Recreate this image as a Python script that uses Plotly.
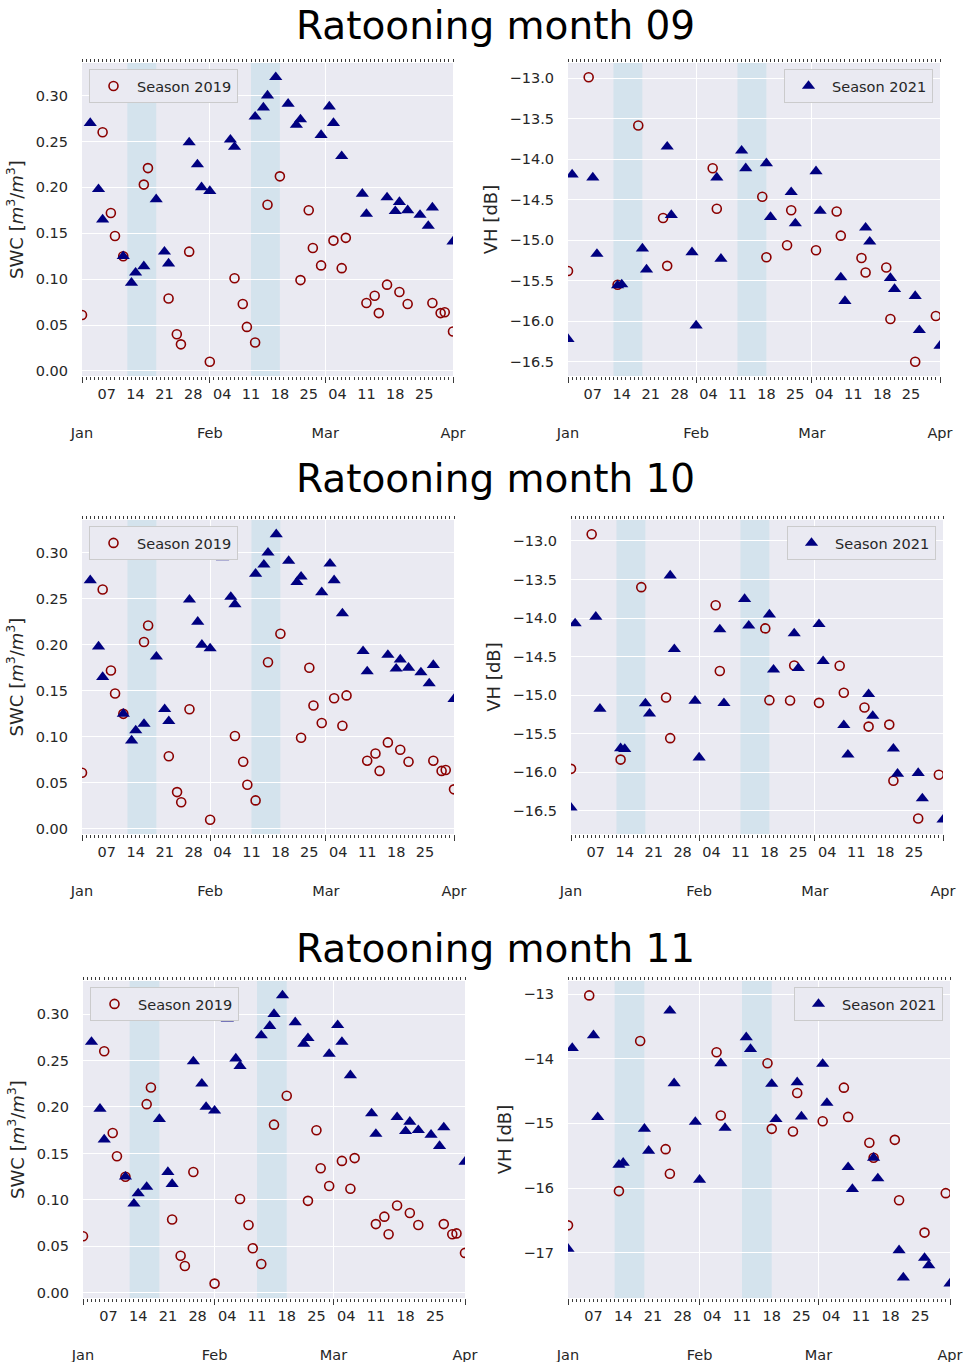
import pandas as pd
import plotly.graph_objects as go

# Common calendar year used to lay both seasons on one Jan-Apr axis
CAL_YEAR = 2019

# ---- Soil water content (same for every ratooning month) ----
swc_2019_dates = ["01-01", "01-06", "01-08", "01-09", "01-11", "01-16", "01-17", "01-22",
                  "01-24", "01-25", "01-27", "02-01", "02-07", "02-09", "02-10", "02-12",
                  "02-15", "02-18", "02-23", "02-25", "02-26", "02-28", "03-03", "03-05",
                  "03-06", "03-11", "03-13", "03-14", "03-16", "03-19", "03-21", "03-27",
                  "03-29", "03-30", "04-01"]
swc_2019 = [0.061, 0.260, 0.172, 0.147, 0.125, 0.203, 0.221, 0.079, 0.040, 0.029, 0.130,
            0.010, 0.101, 0.073, 0.048, 0.031, 0.181, 0.212, 0.099, 0.175, 0.134, 0.115,
            0.142, 0.112, 0.145, 0.074, 0.082, 0.063, 0.094, 0.086, 0.073, 0.074, 0.063,
            0.064, 0.043]

swc_2021_dates = ["01-03", "01-05", "01-06", "01-11", "01-13", "01-14", "01-16", "01-19",
                  "01-21", "01-22", "01-27", "01-29", "01-30", "02-01", "02-04", "02-06",
                  "02-07", "02-12", "02-14", "02-15", "02-17", "02-20", "02-22", "02-23",
                  "02-28", "03-02", "03-03", "03-05", "03-10", "03-11", "03-16", "03-18",
                  "03-19", "03-21", "03-24", "03-26", "03-27", "04-01"]
swc_2021 = [0.270, 0.198, 0.165, 0.125, 0.096, 0.107, 0.114, 0.187, 0.130, 0.117, 0.249,
            0.225, 0.200, 0.196, 0.295, 0.252, 0.244, 0.277, 0.287, 0.300, 0.320, 0.291,
            0.268, 0.274, 0.257, 0.288, 0.270, 0.234, 0.193, 0.171, 0.189, 0.174, 0.184,
            0.175, 0.170, 0.158, 0.178, 0.141]

# ---- Sentinel-1 VH backscatter acquisition dates ----
vh_2019_dates = ["01-01", "01-06", "01-13", "01-18", "01-24", "01-25", "02-05", "02-06",
                 "02-17", "02-18", "02-23", "02-24", "03-02", "03-07", "03-08", "03-13",
                 "03-14", "03-19", "03-20", "03-26", "03-31"]
vh_2021_dates = ["01-01", "01-02", "01-07", "01-08", "01-13", "01-14", "01-19", "01-20",
                 "01-25", "01-26", "01-31", "02-01", "02-06", "02-07", "02-12", "02-13",
                 "02-18", "02-19", "02-24", "02-25", "03-02", "03-03", "03-08", "03-09",
                 "03-14", "03-15", "03-20", "03-21", "03-26", "03-27", "04-01"]

# VH [dB] per ratooning month
vh_2019_m09 = [-15.38, -12.99, -15.55, -13.585, -14.727, -15.317, -14.113, -14.613, -14.465,
               -15.21, -15.063, -14.63, -15.124, -14.646, -14.944, -15.219, -15.399, -15.337,
               -15.972, -16.50, -15.935]
vh_2021_m09 = [-16.22, -14.19, -14.228, -15.17, -15.558, -15.546, -15.104, -15.362, -13.847,
               -14.69, -15.149, -16.054, -14.228, -15.23, -13.896, -14.113, -14.052, -14.715,
               -14.408, -14.793, -14.15, -14.64, -15.46, -15.751, -14.846, -15.018, -15.468,
               -15.603, -15.689, -16.111, -16.303]

vh_2019_m10 = [-15.956, -12.914, -15.836, -13.60, -15.031, -15.558, -13.835, -14.688, -14.135,
               -15.065, -15.07, -14.615, -15.10, -14.62, -14.97, -15.16, -15.408, -15.382,
               -16.11, -16.60, -16.033]
vh_2021_m10 = [-16.46, -14.07, -13.985, -15.177, -15.69, -15.70, -15.108, -15.24, -13.45,
               -14.405, -15.074, -15.81, -14.148, -15.104, -13.754, -14.10, -13.955, -14.67,
               -14.20, -14.65, -14.08, -14.56, -15.39, -15.772, -14.988, -15.27, -15.695,
               -16.02, -16.01, -16.34, -16.616]

vh_2019_m11 = [-16.578, -13.02, -16.048, -13.726, -15.399, -15.78, -13.90, -14.879, -14.07,
               -15.085, -15.126, -14.529, -14.967, -14.447, -14.90, -15.30, -15.533, -15.255,
               -16.19, -16.69, -16.08]
vh_2021_m11 = [-16.94, -13.834, -13.638, -14.905, -15.641, -15.61, -15.085, -15.425, -13.257,
               -14.38, -14.977, -15.873, -14.07, -15.07, -13.669, -13.85, -14.39, -14.936,
               -14.364, -14.894, -14.08, -14.683, -15.677, -16.017, -15.533, -15.852, -16.964,
               -17.386, -17.082, -17.196, -17.479]

ratoon_months = ["09", "10", "11"]
vh_by_month = {
    "09": (vh_2019_m09, vh_2021_m09),
    "10": (vh_2019_m10, vh_2021_m10),
    "11": (vh_2019_m11, vh_2021_m11),
}

# Highlighted periods
event_windows = [("01-12", "01-19"), ("02-11", "02-18")]

# Axis ticks
month_ticks = ["01-01", "02-01", "03-01", "04-01"]
month_labels = ["Jan", "Feb", "Mar", "Apr"]
week_ticks = ["01-07", "01-14", "01-21", "01-28", "02-04", "02-11", "02-18", "02-25",
              "03-04", "03-11", "03-18", "03-25"]
week_labels = ["07", "14", "21", "28", "04", "11", "18", "25", "04", "11", "18", "25"]


def to_date(md):
    return pd.Timestamp(f"{CAL_YEAR}-{md}")


def dates(mds):
    return [to_date(m) for m in mds]


W, H = 968, 1362
FONT = "DejaVu Sans"
TXT = "#262626"
TICKC = "#3a3a3a"
BG = "#EAEAF2"
C2019 = "darkred"
C2021 = "navy"
DAY_MS = 86400000

x_start, x_end = to_date("01-01"), to_date("04-01")

# Panel boxes in pixels: (left, right, top, bottom)
panel_px = [
    [(82, 453, 63, 376), (568, 940, 63, 376)],
    [(82, 454, 520, 834), (571, 943, 520, 834)],
    [(83, 465, 981, 1298), (568, 950, 981, 1298)],
]
title_y_px = [25, 478, 948]


def xdom(p):
    return [p[0] / W, p[1] / W]


def ydom(p):
    return [1 - p[3] / H, 1 - p[2] / H]


def padded(values):
    lo, hi = min(values), max(values)
    pad = 0.05 * (hi - lo)
    return [lo - pad, hi + pad]


fig = go.Figure()
layout = dict(
    width=W, height=H, autosize=False,
    margin=dict(l=0, r=0, t=0, b=0),
    paper_bgcolor="white", plot_bgcolor=BG,
    font=dict(family=FONT, color=TXT, size=14.5),
    shapes=[], annotations=[],
)

panel = 0
for row, month in enumerate(ratoon_months):
    vh19, vh21 = vh_by_month[month]
    series = [
        ("SWC", swc_2019, swc_2021, swc_2019_dates, swc_2021_dates),
        ("VH", vh19, vh21, vh_2019_dates, vh_2021_dates),
    ]
    for col, (kind, s19, s21, d19, d21) in enumerate(series):
        p = panel_px[row][col]
        xi = 2 * panel + 1
        yi = panel + 1
        xid = "x" if xi == 1 else f"x{xi}"
        xkey = "xaxis" if xi == 1 else f"xaxis{xi}"
        wid = f"x{xi + 1}"
        yid = "y" if yi == 1 else f"y{yi}"
        ykey = "yaxis" if yi == 1 else f"yaxis{yi}"
        lid = "legend" if yi == 1 else f"legend{yi}"

        # main bottom axis: month ticks + month gridlines
        layout[xkey] = dict(
            domain=xdom(p), anchor=yid, type="date", range=[x_start, x_end],
            tickmode="array", tickvals=dates(month_ticks),
            ticktext=["<br><br>" + m for m in month_labels],
            ticks="outside", ticklen=6, tickwidth=1, tickcolor=TICKC,
            showgrid=True, gridcolor="white", gridwidth=1.2,
            zeroline=False, showline=False, automargin=False,
            tickfont=dict(size=14.5, color=TXT),
        )
        # weekly day-of-month labels with daily ticks, mirrored to the top edge
        layout[f"xaxis{xi + 1}"] = dict(
            domain=xdom(p), overlaying=xid, anchor=yid, side="bottom", type="date",
            range=[x_start, x_end], tickmode="array", tickvals=dates(week_ticks),
            ticktext=week_labels, ticks="outside", ticklen=3, tickwidth=1, tickcolor=TICKC,
            minor=dict(ticks="outside", ticklen=3, tickwidth=1, tickcolor=TICKC,
                       dtick=DAY_MS, tick0=x_start, showgrid=False),
            mirror="ticks", showgrid=False, zeroline=False,
            showline=False, automargin=False, ticklabelstandoff=2,
            tickfont=dict(size=14.5, color=TXT),
        )

        if kind == "SWC":
            ytitle = "SWC [<i>m</i><sup>3</sup>/<i>m</i><sup>3</sup>]"
            ydtick, yfmt = 0.05, ".2f"
        else:
            ytitle = "VH [dB]"
            ydtick, yfmt = (1.0, "d") if month == "11" else (0.5, ".1f")
        layout[ykey] = dict(
            domain=ydom(p), anchor=xid, range=padded(s19 + s21),
            tick0=0, dtick=ydtick, tickformat=yfmt, ticks="",
            showgrid=True, gridcolor="white", gridwidth=1.2,
            zeroline=False, showline=False, automargin=False,
            ticklabelstandoff=13, tickfont=dict(size=14.5, color=TXT),
            title=dict(text=ytitle, font=dict(size=18, color=TXT), standoff=7),
        )

        for a, b in event_windows:
            layout["shapes"].append(dict(
                type="rect", xref=xid, yref=f"{yid} domain",
                x0=to_date(a), x1=to_date(b), y0=0, y1=1,
                fillcolor="rgba(173,216,230,0.35)", line=dict(width=0), layer="below",
            ))

        fig.add_trace(go.Scatter(
            x=dates(d19), y=s19, mode="markers", name="Season 2019",
            marker=dict(symbol="circle-open", size=9, color=C2019, line=dict(width=1.6, color=C2019)),
            xaxis=xid, yaxis=yid, legend=lid, showlegend=(col == 0),
        ))
        fig.add_trace(go.Scatter(
            x=dates(d21), y=s21, mode="markers", name="Season 2021",
            marker=dict(symbol="triangle-up", size=11.5, color=C2021, line=dict(width=0)),
            xaxis=wid, yaxis=yid, legend=lid, showlegend=(col == 1),
        ))

        leg = dict(
            bgcolor=BG, bordercolor="rgba(200,200,200,0.9)", borderwidth=1,
            font=dict(size=14.5, color=TXT), yanchor="top", y=1 - (p[2] + 6) / H,
            itemwidth=37,
        )
        if col == 0:
            leg.update(x=(p[0] + 7) / W, xanchor="left")
        else:
            leg.update(x=(p[1] - 7) / W, xanchor="right")
        layout[lid] = leg
        panel += 1

    layout["annotations"].append(dict(
        text=f"Ratooning month {month}", xref="paper", yref="paper",
        x=495 / W, y=1 - title_y_px[row] / H, xanchor="center", yanchor="middle",
        showarrow=False, font=dict(size=39, color="black", family=FONT),
    ))

fig.update_layout(**layout)
fig.write_html("out.html")
